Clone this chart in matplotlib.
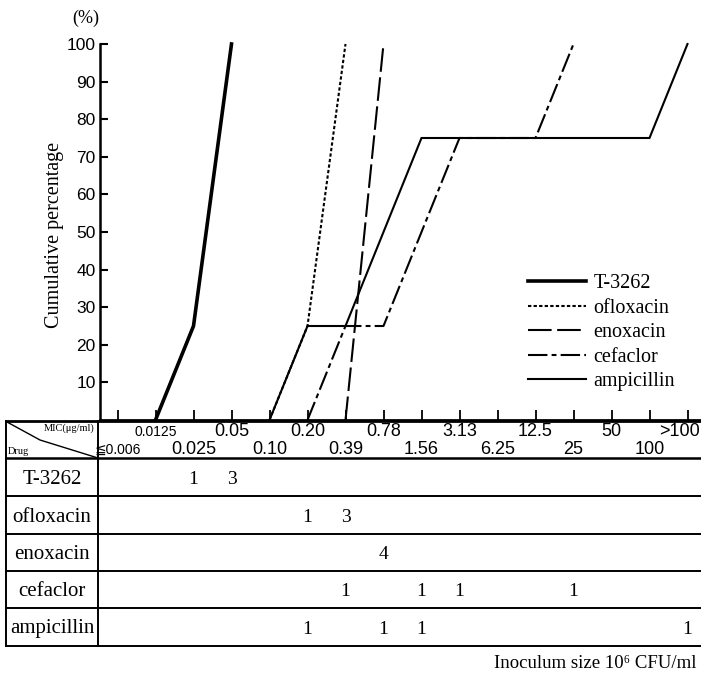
import numpy as np
import matplotlib
matplotlib.use("Agg")
import matplotlib.pyplot as plt
from matplotlib.lines import Line2D
from matplotlib import transforms

# MIC columns (log2 steps) and number of strains per column
mic_labels = ['≦0.006', '0.0125', '0.025', '0.05', '0.10', '0.20', '0.39', '0.78',
              '1.56', '3.13', '6.25', '12.5', '25', '50', '100', '>100']
drugs = ['T-3262', 'ofloxacin', 'enoxacin', 'cefaclor', 'ampicillin']
t3262 = [0, 0, 1, 3, 0, 0, 0, 0, 0, 0, 0, 0, 0, 0, 0, 0]
ofloxacin = [0, 0, 0, 0, 0, 1, 3, 0, 0, 0, 0, 0, 0, 0, 0, 0]
enoxacin = [0, 0, 0, 0, 0, 0, 0, 4, 0, 0, 0, 0, 0, 0, 0, 0]
cefaclor = [0, 0, 0, 0, 0, 0, 1, 0, 1, 1, 0, 0, 1, 0, 0, 0]
ampicillin = [0, 0, 0, 0, 0, 1, 0, 1, 1, 0, 0, 0, 0, 0, 0, 1]
counts = [t3262, ofloxacin, enoxacin, cefaclor, ampicillin]

plt.rcParams['lines.scale_dashes'] = False
W, H = 701, 677
fig = plt.figure(figsize=(W / 100, H / 100), dpi=100)

def fx(px):
    return px / W

def fy(py):
    return 1 - py / H

# main plot area (pixel layout)
ax_l, ax_r, ax_t, ax_b = 100, 701, 44, 420
ax = fig.add_axes([fx(ax_l), fy(ax_b), fx(ax_r - ax_l), (ax_b - ax_t) / H])
x0, step = 117.5, 38.0
ax.set_xlim((ax_l - x0) / step, (ax_r - x0) / step)
ax.set_ylim(0, 100)

styles = [
    dict(color='black', lw=2.6, ls='-'),
    dict(color='black', lw=1.5, dashes=(2.4, 1.6)),
    dict(color='black', lw=1.5, dashes=(17, 4)),
    dict(color='black', lw=1.5, dashes=(14, 3, 3.5, 3)),
    dict(color='black', lw=1.5, ls='-'),
]

handles = []
for i in range(len(drugs)):
    c = np.array(counts[i], dtype=float)
    cum = np.cumsum(c) / c.sum() * 100
    first = int(np.nonzero(c)[0][0]) - 1
    last = int(np.nonzero(cum >= 100)[0][0])
    xs = np.arange(first, last + 1)
    h, = ax.plot(xs, cum[first:last + 1], label=drugs[i], clip_on=False,
                 solid_joinstyle='miter', **styles[i])
    handles.append(h)

for s in ['top', 'right']:
    ax.spines[s].set_visible(False)
ax.spines['left'].set_linewidth(1.8)
ax.spines['bottom'].set_linewidth(2.0)
ax.set_yticks(np.arange(10, 101, 10))
ax.set_xticks(np.arange(len(mic_labels)))
ax.set_xticklabels([])
ax.tick_params(axis='y', direction='in', length=6, width=1.5, pad=3,
               labelsize=12.5)
ax.tick_params(axis='x', direction='in', length=7, width=1.3)
for t in ax.get_yticklabels():
    t.set_family('Liberation Sans')

fig.text(fx(86), fy(18), '(%)', ha='center', va='center', fontsize=13,
         family='Liberation Serif')
fig.text(fx(55), fy(235), 'Cumulative percentage', rotation=90, ha='center',
         va='center', fontsize=14.5, family='Liberation Serif')

leg = ax.legend(handles=handles, loc='upper left', frameon=False,
                bbox_to_anchor=(fx(528), fy(274)), bbox_transform=fig.transFigure,
                prop={'family': 'Liberation Serif', 'size': 14.5},
                handlelength=2.9, handletextpad=0.35, labelspacing=0.27,
                borderpad=0, borderaxespad=0)

# table below the plot
tab_l, tab_div, tab_r = 6, 98, 701
row_y = [421, 458, 496, 534, 571, 608, 646]
def hline(y, x1, x2, lw=1.4):
    fig.add_artist(Line2D([fx(x1), fx(x2)], [fy(y), fy(y)], color='black', lw=lw,
                          transform=fig.transFigure))
def vline(x, y1, y2, lw=1.4):
    fig.add_artist(Line2D([fx(x), fx(x)], [fy(y1), fy(y2)], color='black', lw=lw,
                          transform=fig.transFigure))

hline(row_y[0], tab_l, tab_r, lw=2.0)
hline(row_y[1], tab_l, tab_r, lw=1.8)
for y in row_y[2:]:
    hline(y, tab_l, tab_r)
vline(tab_l, row_y[0], row_y[-1])
vline(tab_div, row_y[0], row_y[-1])
fig.add_artist(Line2D([fx(7), fx(40), fx(98)], [fy(422), fy(440), fy(458)],
                      color='black', lw=1.0, transform=fig.transFigure))
fig.text(fx(95), fy(428), 'MIC(μg/ml)', ha='right', va='center', fontsize=7.5,
         family=['Liberation Serif', 'DejaVu Serif'])
fig.text(fx(8), fy(451), 'Drug', ha='left', va='center', fontsize=7.5,
         family='Liberation Serif')

trans = transforms.blended_transform_factory(ax.transData, fig.transFigure)
for k, lab in enumerate(mic_labels):
    ypix = 432 if k % 2 == 1 else 450
    size = 10 if lab in ('0.0125', '≦0.006') else 13
    if k == len(mic_labels) - 1:
        fig.text(fx(700), fy(ypix), lab, ha='right', va='center', fontsize=size,
                 family=['Liberation Sans', 'DejaVu Sans'])
    else:
        ax.text(k, fy(ypix), lab, transform=trans, ha='center', va='center',
                fontsize=size, family=['Liberation Sans', 'DejaVu Sans'],
                clip_on=False)

for r, name in enumerate(drugs):
    yc = (row_y[r + 1] + row_y[r + 2]) / 2 + 2
    fig.text(fx(52), fy(yc), name, ha='center', va='center', fontsize=15,
             family='Liberation Serif')
    for k, n in enumerate(counts[r]):
        if n:
            ax.text(k, fy(yc), str(n), transform=trans, ha='center', va='center',
                    fontsize=14, family='Liberation Serif', clip_on=False)

fig.text(fx(697), fy(663), 'Inoculum size 10⁶ CFU/ml', ha='right', va='center',
         fontsize=13.5, family=['Liberation Serif', 'DejaVu Serif'])

fig.savefig('out.png', dpi=100)
